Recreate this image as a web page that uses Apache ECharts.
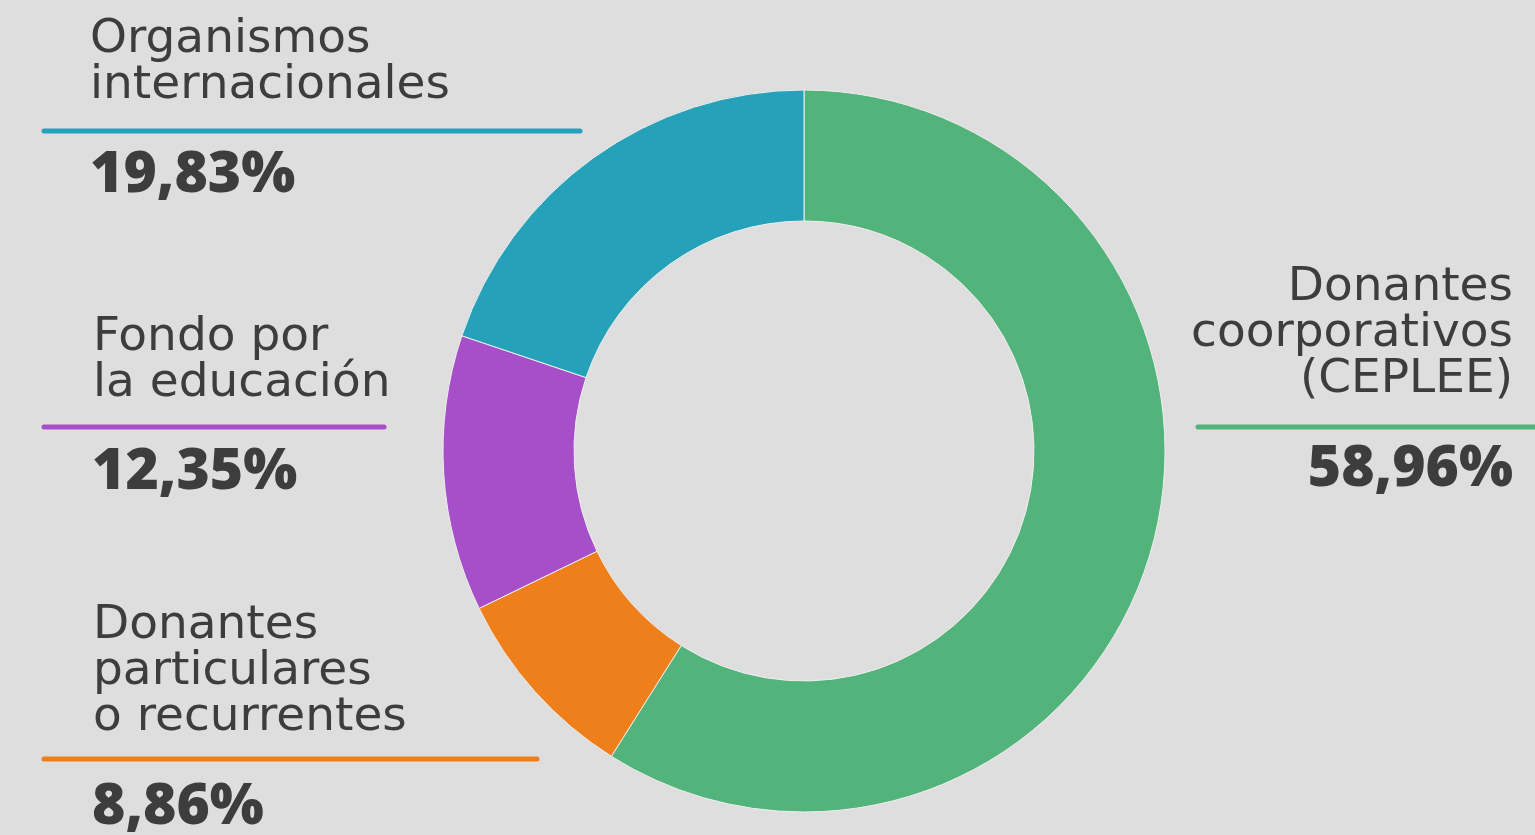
<!DOCTYPE html>
<html>
<head>
<meta charset="utf-8">
<script src="https://cdn.jsdelivr.net/npm/echarts@6/dist/echarts.min.js"></script>
<style>
html,body{margin:0;padding:0;background:#dedede;}
#chart{width:1535px;height:835px;}
</style>
</head>
<body>
<div id="chart"></div>
<script>
// Data
var categories = ['Donantes coorporativos (CEPLEE)', 'Donantes particulares o recurrentes', 'Fondo por la educación', 'Organismos internacionales'];
var labelLines = [
  ['Donantes', 'coorporativos', '(CEPLEE)'],
  ['Donantes', 'particulares', 'o recurrentes'],
  ['Fondo por', 'la educación'],
  ['Organismos', 'internacionales']
];
var values = [58.96, 8.86, 12.35, 19.83];
var colors = ['#52b47a', '#ef7f1a', '#a64fc9', '#25a2ba'];

// Layout (positions only)
var layout = [
  { align: 'right', tx: 1513, ty: 265, lx1: 1198, lx2: 1535, ly: 427, px: 1513, py: 470 },
  { align: 'left', tx: 93, ty: 603, lx1: 44, lx2: 537, ly: 759, px: 92, py: 808 },
  { align: 'left', tx: 93, ty: 315, lx1: 44, lx2: 384, ly: 427, px: 92, py: 473 },
  { align: 'left', tx: 90, ty: 17, lx1: 44, lx2: 580, ly: 131, px: 90, py: 176 }
];

function fmt(v) { return v.toFixed(2).replace('.', ',') + '%'; }

var graphics = [];
categories.forEach(function (c, i) {
  var L = layout[i];
  graphics.push({
    type: 'text', silent: true,
    style: {
      text: labelLines[i].join('\n'), x: L.tx, y: L.ty,
      font: '400 47px "DejaVu Sans"', lineHeight: 46,
      fill: '#3d3d3d', textAlign: L.align, textVerticalAlign: 'top'
    }
  });
  graphics.push({
    type: 'line', silent: true,
    shape: { x1: L.lx1, y1: L.ly, x2: L.lx2, y2: L.ly },
    style: { stroke: colors[i], lineWidth: 5, lineCap: 'round' }
  });
  graphics.push({
    type: 'text', silent: true,
    style: {
      text: fmt(values[i]), x: L.px, y: L.py,
      font: '800 57px "Open Sans"',
      fill: '#3d3d3d', textAlign: L.align, textVerticalAlign: 'middle'
    }
  });
});

var chart = echarts.init(document.getElementById('chart'));
chart.setOption({
  backgroundColor: '#dedede',
  animation: false,
  graphic: graphics,
  series: [{
    type: 'pie',
    center: [804, 451],
    radius: [230, 361],
    startAngle: 90,
    clockwise: true,
    label: { show: false },
    labelLine: { show: false },
    emphasis: { disabled: true },
    itemStyle: { borderColor: '#eeeeee', borderWidth: 1 },
    data: categories.map(function (c, i) {
      return { name: c, value: values[i], itemStyle: { color: colors[i] } };
    })
  }]
});
</script>
</body>
</html>
